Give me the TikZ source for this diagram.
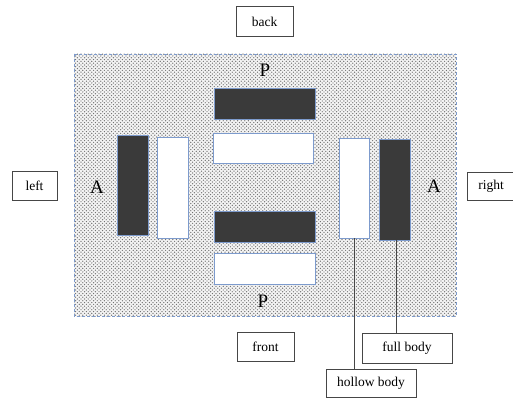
\documentclass[tikz,border=0pt]{standalone}
\usepackage{fontspec}
\setmainfont{Liberation Serif}
\usetikzlibrary{patterns}
\pgfdeclarepatternformonly{fielddots}{\pgfqpoint{-1pt}{-1pt}}{\pgfqpoint{4pt}{4pt}}{\pgfqpoint{3.6pt}{3.6pt}}{%
  \pgfpathcircle{\pgfqpoint{0pt}{0pt}}{0.7pt}%
  \pgfpathcircle{\pgfqpoint{1.8pt}{1.8pt}}{0.7pt}%
  \pgfusepath{fill}}
\definecolor{edgeblue}{RGB}{125,155,205}
\definecolor{barfill}{RGB}{58,58,58}
\definecolor{boxline}{RGB}{70,70,70}
\begin{document}
\begin{tikzpicture}[x=1pt,y=-1pt,
  darkbar/.style={draw=edgeblue,line width=0.8pt,fill=barfill,inner sep=0pt,outer sep=0pt},
  whitebar/.style={draw=edgeblue,line width=0.8pt,fill=white,inner sep=0pt,outer sep=0pt},
  labelbox/.style={draw=boxline,line width=0.7pt,fill=white,inner sep=0pt,outer sep=0pt,font=\fontsize{13.5}{15}\selectfont},
  biglabel/.style={inner sep=0pt,font=\fontsize{19}{21}\selectfont},
  leader/.style={draw=boxline,line width=0.7pt}]
\useasboundingbox (0,0) rectangle (513,398);
% field
\path[fill=black!4] (74,54) rectangle (456,316);
\path[pattern=fielddots,pattern color=black!55] (74,54) rectangle (456,316);
\draw[edgeblue,line width=0.8pt,densely dashed] (74,54) rectangle (456,316);
% bars
\node[darkbar,minimum width=31pt,minimum height=100pt] (ldark) at (132.5,185) {};
\node[whitebar,minimum width=31pt,minimum height=101pt] (lwhite) at (172.5,187.5) {};
\node[darkbar,minimum width=101pt,minimum height=31pt] (tdark) at (264.5,103.5) {};
\node[whitebar,minimum width=100pt,minimum height=30pt] (twhite) at (263,148) {};
\node[darkbar,minimum width=101pt,minimum height=31pt] (bdark) at (264.5,226.5) {};
\node[whitebar,minimum width=101pt,minimum height=31pt] (bwhite) at (264.5,268.5) {};
\node[whitebar,minimum width=30pt,minimum height=100pt] (rwhite) at (354,188) {};
\node[darkbar,minimum width=31pt,minimum height=101pt] (rdark) at (394.5,189.5) {};
% big letters
\node[biglabel] (ptop) at (265,70) {P};
\node[biglabel] (pbot) at (263,301) {P};
\node[biglabel] (aleft) at (97,187) {A};
\node[biglabel] (aright) at (434,186) {A};
% label boxes
\node[labelbox,minimum width=57pt,minimum height=30pt] (back) at (264.5,21.5) {back};
\node[labelbox,minimum width=45pt,minimum height=29pt] (left) at (34.5,186) {left};
\node[labelbox,minimum width=48pt,minimum height=28pt] (right) at (491,186) {right};
\node[labelbox,minimum width=57pt,minimum height=29pt] (front) at (265.5,346.5) {front};
\node[labelbox,minimum width=90pt,minimum height=30pt] (full) at (407,348) {full body};
\node[labelbox,minimum width=90pt,minimum height=28pt] (hollow) at (371,383) {hollow body};
% leaders
\draw[leader] (rwhite.south) -- (rwhite.south |- hollow.north);
\draw[leader] ([xshift=1.5pt]rdark.south) -- ([xshift=1.5pt]rdark.south |- full.north);
\end{tikzpicture}
\end{document}
